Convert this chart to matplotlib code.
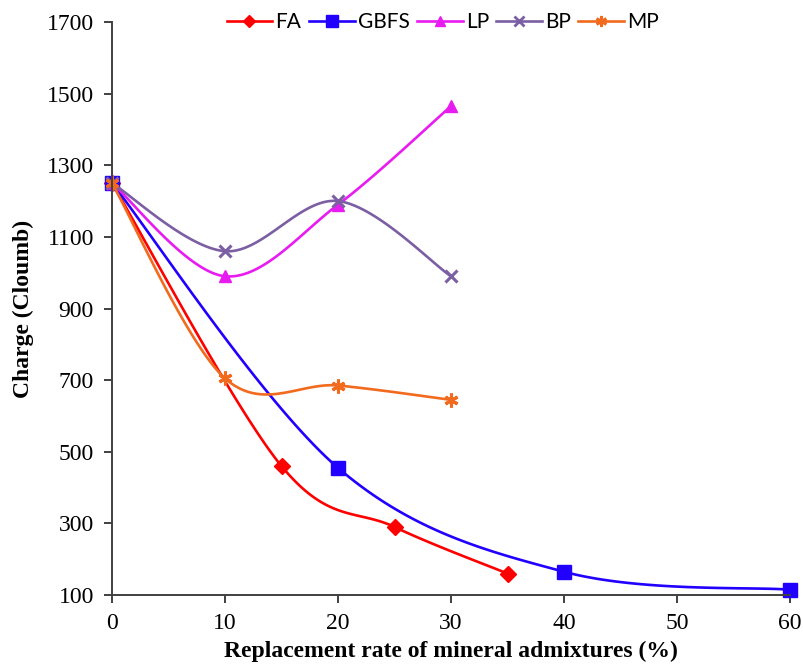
import numpy as np
import matplotlib.pyplot as plt
from matplotlib.lines import Line2D

# data
fa_x = [0, 15, 25, 35]
fa_y = [1250, 460, 290, 160]
gbfs_x = [0, 20, 40, 60]
gbfs_y = [1250, 455, 165, 115]
lp_x = [0, 10, 20, 30]
lp_y = [1250, 990, 1190, 1465]
bp_x = [0, 10, 20, 30]
bp_y = [1250, 1060, 1200, 990]
mp_x = [0, 10, 20, 30]
mp_y = [1250, 705, 685, 645]

x_ticks = [0, 10, 20, 30, 40, 50, 60]
y_ticks = [100, 300, 500, 700, 900, 1100, 1300, 1500, 1700]


def smooth(xs, ys, n=40):
    # Excel style smoothed line (Catmull-Rom as cubic bezier)
    p = np.column_stack([xs, ys]).astype(float)
    out = [p[0]]
    for i in range(len(p) - 1):
        p0 = p[i - 1] if i > 0 else p[i]
        p3 = p[i + 2] if i + 2 < len(p) else p[i + 1]
        c1 = p[i] + (p[i + 1] - p0) / 6
        c2 = p[i + 1] - (p3 - p[i]) / 6
        t = np.linspace(0, 1, n)[1:, None]
        seg = ((1 - t) ** 3 * p[i] + 3 * (1 - t) ** 2 * t * c1
               + 3 * (1 - t) * t ** 2 * c2 + t ** 3 * p[i + 1])
        out.extend(seg)
    out = np.array(out)
    return out[:, 0], out[:, 1]


series = [
    ("FA", fa_x, fa_y, "#FF0000", "D", 8),
    ("GBFS", gbfs_x, gbfs_y, "#2200FF", "s", 10),
    ("LP", lp_x, lp_y, "#E81CF0", "^", 9),
    ("BP", bp_x, bp_y, "#7B5EA3", "x", 9),
    ("MP", mp_x, mp_y, "#F26A1E", (6, 2, 0), 10),
]

fig = plt.figure(figsize=(8.04, 6.70), dpi=100)
ax = fig.add_axes([0.1393, 0.1119, 0.8433, 0.8553])

handles = []
for name, xs, ys, col, mk, ms in series:
    sx, sy = smooth(xs, ys)
    ax.plot(sx, sy, color=col, lw=1.9, clip_on=False)
    ax.plot(xs, ys, linestyle="none", marker=mk, ms=ms, color=col,
            mec=col, mew=2.2 if mk in ("x", (6, 2, 0)) else 1, clip_on=False)
    handles.append(Line2D([], [], color=col, lw=1.9, marker=mk, ms=ms * 0.8,
                          mew=2 if mk in ("x", (6, 2, 0)) else 1, label=name))

ax.set_xlim(0, 60)
ax.set_ylim(100, 1700)
ax.set_xticks(x_ticks)
ax.set_yticks(y_ticks)
ax.spines["top"].set_visible(False)
ax.spines["right"].set_visible(False)
for s in ("left", "bottom"):
    ax.spines[s].set_color("#404040")
    ax.spines[s].set_linewidth(1.4)
ax.tick_params(direction="out", length=6, width=1.4, color="#404040", pad=7)
for lab in ax.get_xticklabels() + ax.get_yticklabels():
    lab.set_fontfamily("Liberation Serif")
    lab.set_fontsize(17)

ax.set_xlabel("Replacement rate of mineral admixtures (%)", fontfamily="Liberation Serif",
              fontweight="bold", fontsize=17, labelpad=5)
ax.set_ylabel("Charge (Cloumb)", fontfamily="Liberation Serif",
              fontweight="bold", fontsize=17, labelpad=9)

ax.legend(handles=handles, loc="center", bbox_to_anchor=(0.488, 1.0), ncol=5,
          frameon=False, handlelength=2.2, handletextpad=0.15, columnspacing=0.35,
          prop={"family": "Lato", "size": 15})

fig.savefig("out.png", dpi=100)
